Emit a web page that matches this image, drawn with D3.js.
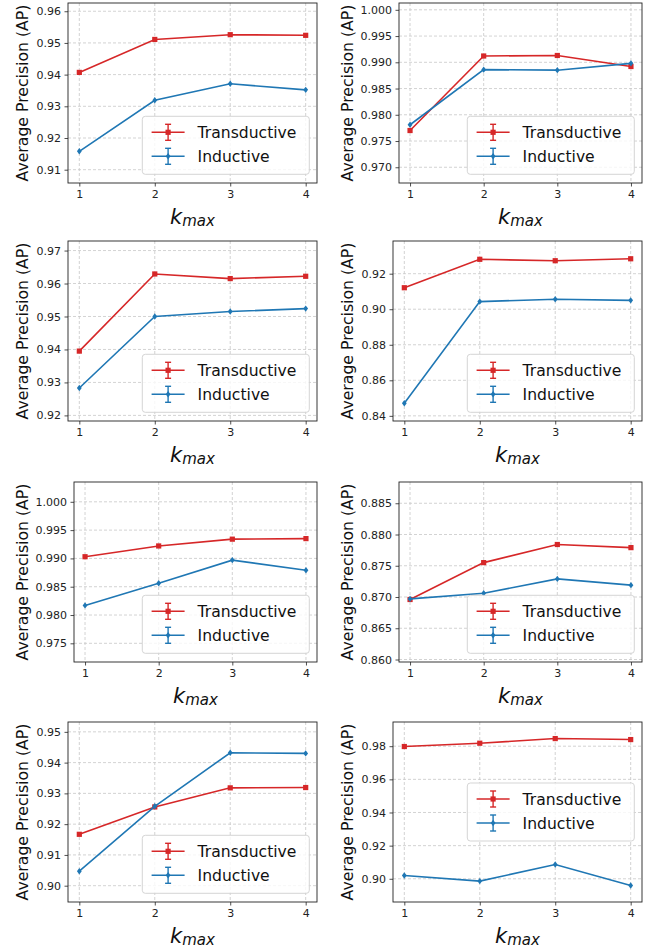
<!DOCTYPE html>
<html>
<head>
<meta charset="utf-8">
<script src="https://cdn.jsdelivr.net/npm/d3@7"></script>
<style>
  body { margin: 0; background: #fff; }
  svg { display: block; }
  text { font-family: "DejaVu Sans", sans-serif; }
</style>
</head>
<body>
<div id="chart"></div>
<script>
// k_max values on the x axis
const kValues = [1, 2, 3, 4];

// AP per panel (8 panels, row by row)
const transductive = [
    [0.9407, 0.9511, 0.9526, 0.9524],
    [0.9770, 0.9912, 0.9913, 0.9892],
    [0.9395, 0.9629, 0.9615, 0.9622],
    [0.9121, 0.9281, 0.9273, 0.9284],
    [0.9903, 0.9922, 0.9934, 0.9935],
    [0.8696, 0.8755, 0.8784, 0.8779],
    [0.9167, 0.9256, 0.9318, 0.9319],
    [0.9798, 0.9818, 0.9846, 0.9840]
];
const inductive = [
    [0.9158, 0.9319, 0.9371, 0.9352],
    [0.9781, 0.9886, 0.9885, 0.9898],
    [0.9283, 0.9500, 0.9515, 0.9524],
    [0.8471, 0.9043, 0.9056, 0.9050],
    [0.9817, 0.9856, 0.9897, 0.9879],
    [0.8697, 0.8706, 0.8729, 0.8719],
    [0.9047, 0.9258, 0.9432, 0.9430],
    [0.9020, 0.8986, 0.9086, 0.8960]
];

// y tick labels per panel
const yTickLabels = [
    ["0.91", "0.92", "0.93", "0.94", "0.95", "0.96"],
    ["0.970", "0.975", "0.980", "0.985", "0.990", "0.995", "1.000"],
    ["0.92", "0.93", "0.94", "0.95", "0.96", "0.97"],
    ["0.84", "0.86", "0.88", "0.90", "0.92"],
    ["0.975", "0.980", "0.985", "0.990", "0.995", "1.000"],
    ["0.860", "0.865", "0.870", "0.875", "0.880", "0.885"],
    ["0.90", "0.91", "0.92", "0.93", "0.94", "0.95"],
    ["0.90", "0.92", "0.94", "0.96", "0.98"]
];
const legendLoc = ["lower right", "lower right", "lower right", "lower right",
                   "lower right", "lower right", "lower right", "center right"];
const seriesNames = ["Transductive", "Inductive"];
const seriesColors = ["#d62728", "#1f77b4"];

const W = 655, H = 950;
const svg = d3.select("#chart").append("svg")
    .attr("width", W).attr("height", H);

const rowTops = [3, 241, 482, 722];
const plotH = 180;
const colX = [0, 325];

function marker(g, type, color) {
    if (type === 0) {
        g.append("rect").attr("x", -2.6).attr("y", -2.6).attr("width", 5.2).attr("height", 5.2)
            .attr("fill", color);
    } else {
        g.append("path").attr("d", "M0,-3.2L2.4,0L0,3.2L-2.4,0Z").attr("fill", color);
    }
}

transductive.forEach((tr, p) => {
    const ind = inductive[p];
    const row = Math.floor(p / 2), col = p % 2;
    const wide = yTickLabels[p][0].length > 4;
    const left = colX[col] + (wide ? 74 : 68);
    const right = colX[col] + 317;
    const top = rowTops[row];
    const bottom = top + plotH;

    const all = tr.concat(ind);
    const x = d3.scaleLinear().domain([0.85, 4.15]).range([left, right]);
    const y = d3.scaleLinear()
        .domain([d3.min(all) - 0.01, d3.max(all) + 0.01])
        .range([bottom, top]);
    const yTicks = yTickLabels[p].map(Number);

    const g = svg.append("g");

    // grid
    g.append("g").selectAll("line").data(yTicks).join("line")
        .attr("x1", left).attr("x2", right)
        .attr("y1", d => y(d)).attr("y2", d => y(d))
        .attr("stroke", "#c8c8c8").attr("stroke-width", 0.8).attr("stroke-dasharray", "3,2");
    g.append("g").selectAll("line").data(kValues).join("line")
        .attr("y1", top).attr("y2", bottom)
        .attr("x1", d => x(d)).attr("x2", d => x(d))
        .attr("stroke", "#c8c8c8").attr("stroke-width", 0.8).attr("stroke-dasharray", "3,2");

    // axes
    const yAxis = g.append("g").attr("transform", `translate(${left},0)`)
        .call(d3.axisLeft(y).tickValues(yTicks).tickFormat((d, i) => yTickLabels[p][i])
            .tickSize(3.5).tickPadding(3.5));
    const xAxis = g.append("g").attr("transform", `translate(0,${bottom})`)
        .call(d3.axisBottom(x).tickValues(kValues).tickFormat(d3.format("d"))
            .tickSize(3.5).tickPadding(3.5));
    [xAxis, yAxis].forEach(a => {
        a.select(".domain").remove();
        a.selectAll("line").attr("stroke", "#222").attr("stroke-width", 0.8);
        a.selectAll("text").attr("font-size", 11).attr("fill", "#222")
            .attr("font-family", "DejaVu Sans");
    });

    // series lines and markers
    const line = d3.line().x((d, i) => x(kValues[i])).y(d => y(d));
    [tr, ind].forEach((vals, s) => {
        g.append("path").datum(vals).attr("d", line)
            .attr("fill", "none").attr("stroke", seriesColors[s]).attr("stroke-width", 1.6);
        vals.forEach((v, i) => {
            const m = g.append("g").attr("transform", `translate(${x(kValues[i])},${y(v)})`);
            marker(m, s, seriesColors[s]);
        });
    });

    // frame
    g.append("rect").attr("x", left).attr("y", top)
        .attr("width", right - left).attr("height", bottom - top)
        .attr("fill", "none").attr("stroke", "#222").attr("stroke-width", 0.9);

    // y label
    g.append("text")
        .attr("transform", `translate(${colX[col] + 27.5},${(top + bottom) / 2}) rotate(-90)`)
        .attr("text-anchor", "middle").attr("font-size", 15.7).attr("fill", "#111")
        .text("Average Precision (AP)");

    // x label k_max
    const xl = g.append("text")
        .attr("x", (left + right) / 2).attr("y", bottom + 40.6)
        .attr("text-anchor", "middle").attr("fill", "#111").attr("font-style", "italic");
    xl.append("tspan").attr("font-size", 21).text("k");
    xl.append("tspan").attr("font-size", 15).attr("dy", 2.8).text("max");

    // legend
    const lw = 167, lh = 58;
    const lx = right - 7.7 - lw;
    const ly = legendLoc[p] === "center right" ? (top + bottom) / 2 - lh / 2 : bottom - 8.7 - lh;
    const lg = g.append("g").attr("transform", `translate(${lx},${ly})`);
    lg.append("rect").attr("width", lw).attr("height", lh).attr("rx", 3)
        .attr("fill", "#fff").attr("fill-opacity", 0.8)
        .attr("stroke", "#d0d0d0").attr("stroke-width", 0.9);
    seriesNames.forEach((name, s) => {
        const cy = 16 + s * 24;
        const c = seriesColors[s];
        lg.append("line").attr("x1", 9.3).attr("x2", 42.3).attr("y1", cy).attr("y2", cy)
            .attr("stroke", c).attr("stroke-width", 1.6);
        lg.append("line").attr("x1", 25.8).attr("x2", 25.8).attr("y1", cy - 8).attr("y2", cy + 8)
            .attr("stroke", c).attr("stroke-width", 1.4);
        [-8, 8].forEach(dy => lg.append("line")
            .attr("x1", 22.8).attr("x2", 28.8).attr("y1", cy + dy).attr("y2", cy + dy)
            .attr("stroke", c).attr("stroke-width", 1.4));
        marker(lg.append("g").attr("transform", `translate(25.8,${cy})`), s, c);
        lg.append("text").attr("x", 55.3).attr("y", cy).attr("dy", "0.36em")
            .attr("font-size", 15.6).attr("fill", "#111").text(name);
    });
});
</script>
</body>
</html>
